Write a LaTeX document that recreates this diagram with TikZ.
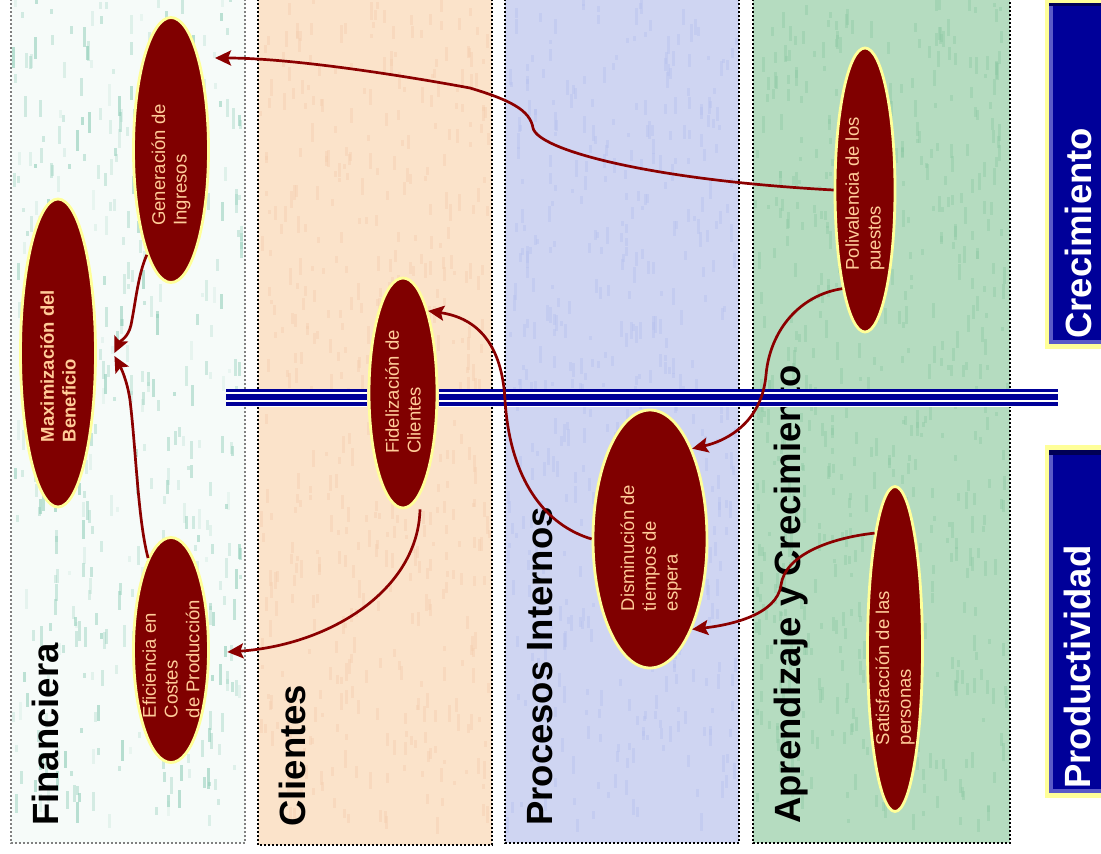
\documentclass[tikz,border=0pt]{standalone}
\usepackage{fontspec}
\setmainfont{Liberation Sans}
\usetikzlibrary{shapes.geometric,arrows.meta,calc}
\definecolor{ovalfill}{HTML}{800000}
\definecolor{ovalline}{HTML}{FFFF99}
\definecolor{ovaltxt}{HTML}{FFCC99}
\definecolor{conn}{HTML}{8B0000}
\definecolor{navyc}{HTML}{000099}
\definecolor{finbg}{HTML}{F6FBF9}
\definecolor{clibg}{HTML}{FBE3CA}
\definecolor{probg}{HTML}{CFD5F2}
\definecolor{aprbg}{HTML}{B5DCC0}
\definecolor{streak}{HTML}{8FCDB8}
\definecolor{clistreak}{HTML}{F5CFB0}
\definecolor{prostreak}{HTML}{B8C2EE}
\definecolor{aprstreak}{HTML}{8CC8A4}
\definecolor{bevel}{HTML}{5A5AC8}
\definecolor{bevdark}{HTML}{000055}
\begin{document}
\begin{tikzpicture}[x=1pt,y=-1pt,
  objective/.style={ellipse, draw=ovalline, fill=ovalfill, line width=2.8pt, inner sep=0pt},
  ovaltext/.style={rotate=90, align=left, inner sep=0pt, text=ovaltxt, font=\fontsize{18.5}{21.7}\selectfont},
  coltitle/.style={rotate=90, anchor=base west, inner sep=0pt, text=black, font=\bfseries\fontsize{36.5}{40}\selectfont},
  boxtitle/.style={coltitle, text=white},
  link/.style={draw=conn, line width=2.7pt, -{Stealth[length=16pt,width=15pt,inset=3pt]}},
  colframe/.style={line width=2.2pt, dash pattern=on 2pt off 2pt}
]
\useasboundingbox (0,0) rectangle (1101,854);
\clip (0,0) rectangle (1101,854);
\fill[white] (0,0) rectangle (1101,854);

% columns
\fill[finbg] (11,-5) rectangle (245,843);
\pgfmathsetseed{11}
\foreach \k in {1,...,450}{
  \pgfmathsetmacro{\sx}{12+229*rnd}
  \pgfmathsetmacro{\sy}{-5+820*rnd}
  \pgfmathsetmacro{\sh}{4+18*rnd}
  \pgfmathsetmacro{\so}{0.12+0.5*rnd}
  \fill[streak, fill opacity=\so] (\sx,\sy) rectangle ++(3,\sh);
}
\draw[colframe, draw=gray] (11,-5) -- (11,843) -- (245,843) -- (245,-5);

\fill[clibg] (258,-5) rectangle (492,845);
\foreach \k in {1,...,500}{
  \pgfmathsetmacro{\sx}{259+229*rnd}
  \pgfmathsetmacro{\sy}{-5+825*rnd}
  \pgfmathsetmacro{\sh}{4+14*rnd}
  \fill[clistreak, fill opacity=0.45] (\sx,\sy) rectangle ++(3,\sh);
}
\draw[colframe, draw=black] (258,-5) -- (258,845) -- (492,845) -- (492,-5);

\fill[probg] (505,-5) rectangle (739,843);
\foreach \k in {1,...,500}{
  \pgfmathsetmacro{\sx}{506+229*rnd}
  \pgfmathsetmacro{\sy}{-5+825*rnd}
  \pgfmathsetmacro{\sh}{4+14*rnd}
  \fill[prostreak, fill opacity=0.45] (\sx,\sy) rectangle ++(3,\sh);
}
\draw[colframe, draw=black] (505,-5) -- (505,843) -- (739,843) -- (739,-5);

\fill[aprbg] (753,-5) rectangle (1010,843);
\foreach \k in {1,...,600}{
  \pgfmathsetmacro{\sx}{754+252*rnd}
  \pgfmathsetmacro{\sy}{-5+825*rnd}
  \pgfmathsetmacro{\sh}{4+14*rnd}
  \fill[aprstreak, fill opacity=0.4] (\sx,\sy) rectangle ++(3,\sh);
}
\draw[colframe, draw=black] (753,-5) -- (753,843) -- (1010,843) -- (1010,-5);

% column titles
\node[coltitle] (tfin) at (58,826) {Financiera};
\node[coltitle] (tcli) at (305,827) {Clientes};
\node[coltitle] (tpro) at (552,826) {Procesos Internos};
\node[coltitle] (tapr) at (800,824) {Aprendizaje y Crecimiento};

% right boxes
\fill[ovalline] (1045,-2) rectangle (1115,349);
\fill[bevel] (1049,3) rectangle (1115,344);
\fill[bevdark] (1049,3) rectangle (1115,6);
\fill[navyc] (1053,6) rectangle (1115,340);
\node[boxtitle] (tcre) at (1091,339) {Crecimiento};
\fill[ovalline] (1045,445) rectangle (1115,798);
\fill[bevel] (1049,450) rectangle (1115,793);
\fill[bevdark] (1049,450) rectangle (1115,455);
\fill[navyc] (1053,455) rectangle (1115,789);
\node[boxtitle] (tprod) at (1090,789) {Productividad};

% double separator line
\foreach \xa/\xb in {226/367, 439/1058}{
  \fill[white] (\xa,388.5) rectangle (\xb,406.5);
  \fill[navyc] (\xa,389) rectangle (\xb,392.4);
  \fill[navyc] (\xa,394) rectangle (\xb,400);
  \fill[navyc] (\xa,402.4) rectangle (\xb,406);
}

% objectives
\node[objective, minimum width=75pt, minimum height=265pt] (gen) at (171,150) {};
\node[objective, minimum width=75pt, minimum height=308pt] (max) at (58,353) {};
\node[objective, minimum width=75pt, minimum height=225pt] (efi) at (171,650) {};
\node[objective, minimum width=68pt, minimum height=230pt] (fid) at (403,393) {};
\node[objective, minimum width=114pt, minimum height=258pt] (dis) at (650,539) {};
\node[objective, minimum width=60pt, minimum height=284pt] (pol) at (865,190) {};
\node[objective, minimum width=55pt, minimum height=325pt] (sat) at (895,649) {};

\node[ovaltext] (genT) at (171,165) {Generación de\\Ingresos};
\node[ovaltext, font=\bfseries\fontsize{18.5}{21.7}\selectfont] (maxT) at (58,366) {Maximización del\\Beneficio};
\node[ovaltext] (efiT) at (171,659) {Eficiencia en\\Costes\\de Producción};
\node[ovaltext] (fidT) at (403,392) {Fidelización de\\Clientes};
\node[ovaltext] (disT) at (651,548) {Disminución de\\tiempos de\\espera};
\node[ovaltext] (polT) at (865,194) {Polivalencia de los\\puestos};
\node[ovaltext] (satT) at (895,668) {Satisfacción de las\\personas};

% connectors
\draw[link] (pol.west) .. controls (650,180) and (538,150) .. (533,128)
  .. controls (530,110) and (510,100) .. (470,88)
  .. controls (400,75) and (290,58) .. ($(gen.center)+(44,-92)$);
\draw[link] (gen.257) .. controls (138,275) and (136,300) .. (131,325)
  .. controls (128,338) and (120,341) .. ($(max.east)+(17.5,0)$);
\draw[link] (efi.104) .. controls (138,520) and (136,450) .. (130,400)
  .. controls (127,380) and (121,368) .. ($(max.east)+(17.5,3)$);
\draw[link] ($(fid.south)+(17,0)$) .. controls (418,590) and (330,645) .. ($(efi.east)+(17.5,2)$);
\draw[link] (dis.west) .. controls (545,525) and (510,480) .. (505,400)
  .. controls (502,345) and (478,318) .. (fid.73);
\draw[link] (pol.257) .. controls (800,295) and (770,330) .. (766,375)
  .. controls (762,420) and (730,440) .. (dis.65);
\draw[link] (sat.100) .. controls (830,538) and (785,555) .. (781,585)
  .. controls (777,615) and (730,625) .. (dis.295);
\end{tikzpicture}
\end{document}
